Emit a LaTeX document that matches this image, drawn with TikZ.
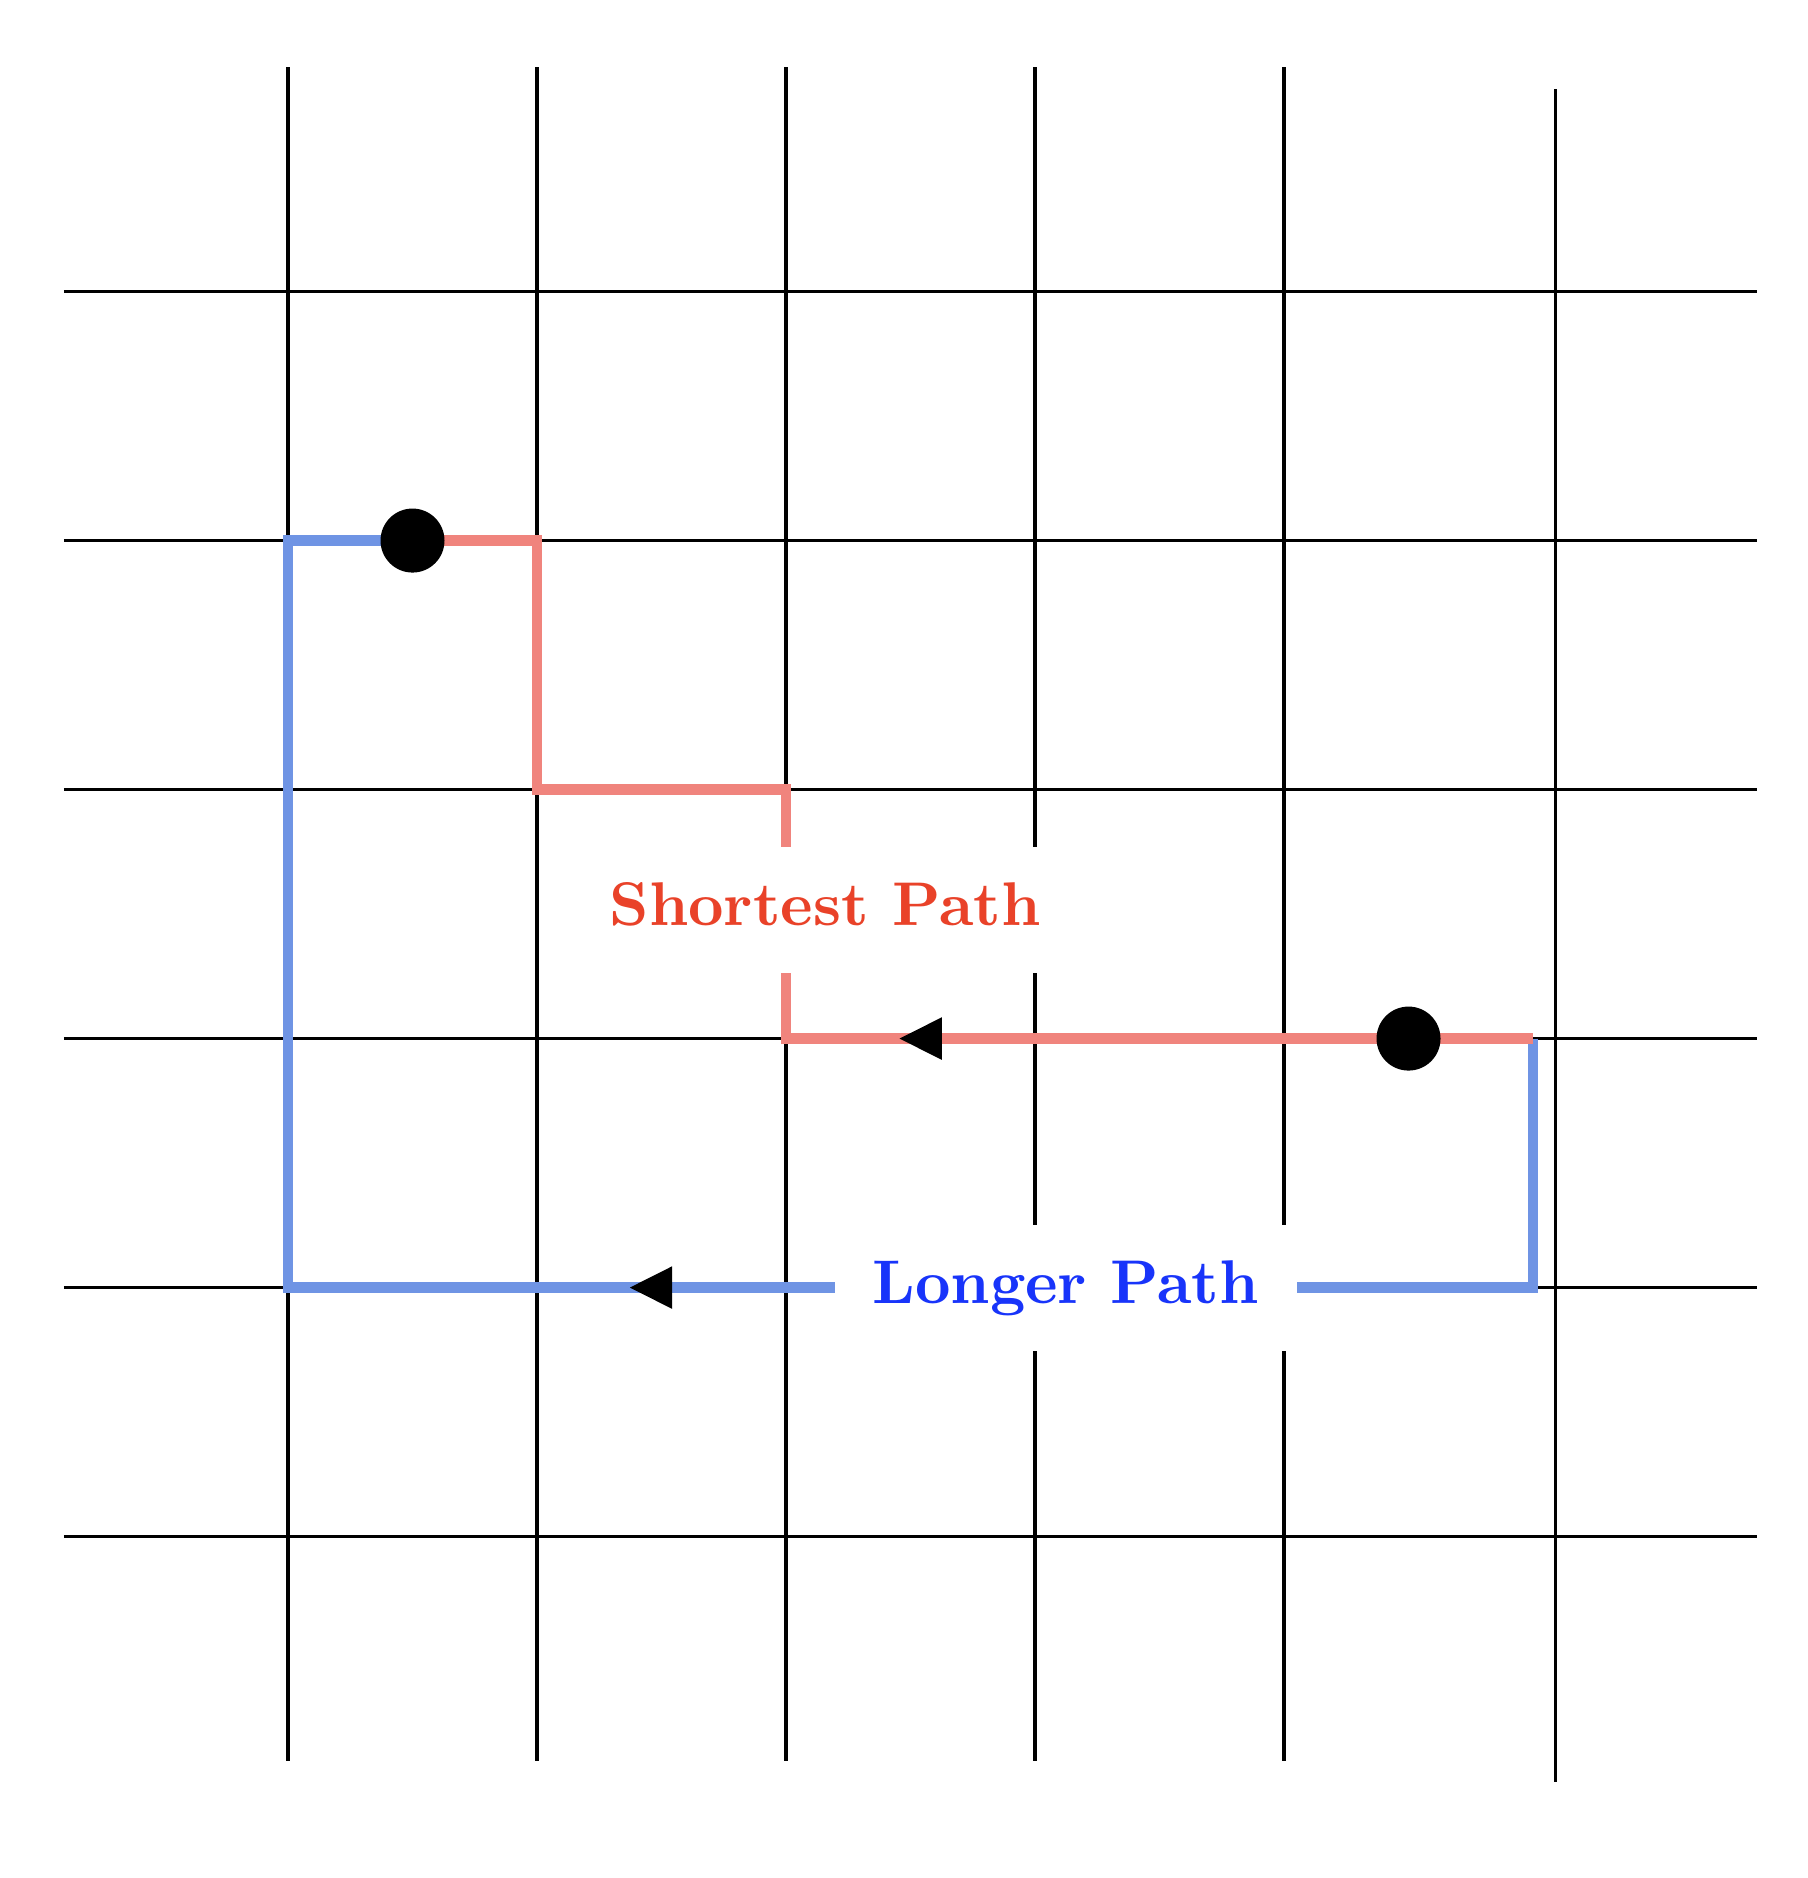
\documentclass[tikz,border=0pt]{standalone}
\usetikzlibrary{calc}
\definecolor{pathred}{RGB}{240,132,125}
\definecolor{pathblue}{RGB}{111,148,228}
\definecolor{textred}{RGB}{233,66,41}
\definecolor{textblue}{RGB}{24,52,250}
\tikzset{
  gridline/.style={black, line width=0.4pt},
  redpath/.style={pathred, line width=1.22pt},
  bluepath/.style={pathblue, line width=1.22pt},
  enddot/.style={circle, fill=black, inner sep=0pt, minimum size=0.257cm},
  pathlabel/.style={fill=white, font=\bfseries, scale=0.705, inner xsep=6.1pt, inner ysep=5.8pt, text height=6.9pt, text depth=1.9pt},
  larrow/.pic={\fill[black] (0,0) -- (0.17,0.0857) -- (0.17,-0.0857) -- cycle;}
}
\begin{document}
\begin{tikzpicture}
\useasboundingbox (-1.1566,-1.3711) rectangle (6.1044,6.1711);
% grid
\foreach \y in {0,...,5} \draw[gridline] (-0.9,\y) -- (5.9,\y);
\foreach \x in {0,...,4} \draw[gridline] (\x,-0.9) -- (\x,5.9);
\draw[gridline] (5.09,-0.985) -- (5.09,5.813);
% waypoints
\coordinate (s) at (0.5,4);
\coordinate (g) at (4.5,2);
\coordinate (r1) at (1,4);
\coordinate (r2) at (1,3);
\coordinate (r3) at (2,3);
\coordinate (r4) at (2,2);
\coordinate (c) at (5,2);
\coordinate (b1) at (5,1);
\coordinate (b2) at (0,1);
\coordinate (b3) at (0,4);
% paths
\draw[bluepath] (c) -- (b1) -- (b2) -- (b3) -- (s);
\draw[redpath] (s) -- (r1) -- (r2) -- (r3) -- (r4) -- (g) -- (c);
% arrowheads
\pic at (2.456,2.0) {larrow};
\pic at (1.373,1.0) {larrow};
% labels
\node[pathlabel, text=textred] (sl) at (2.157,2.516) {Shortest Path};
\node[pathlabel, text=textblue] (ll) at (3.123,1.0) {Longer Path};
% end dots
\node[enddot] (start) at (s) {};
\node[enddot] (goal) at (g) {};
\end{tikzpicture}
\end{document}
